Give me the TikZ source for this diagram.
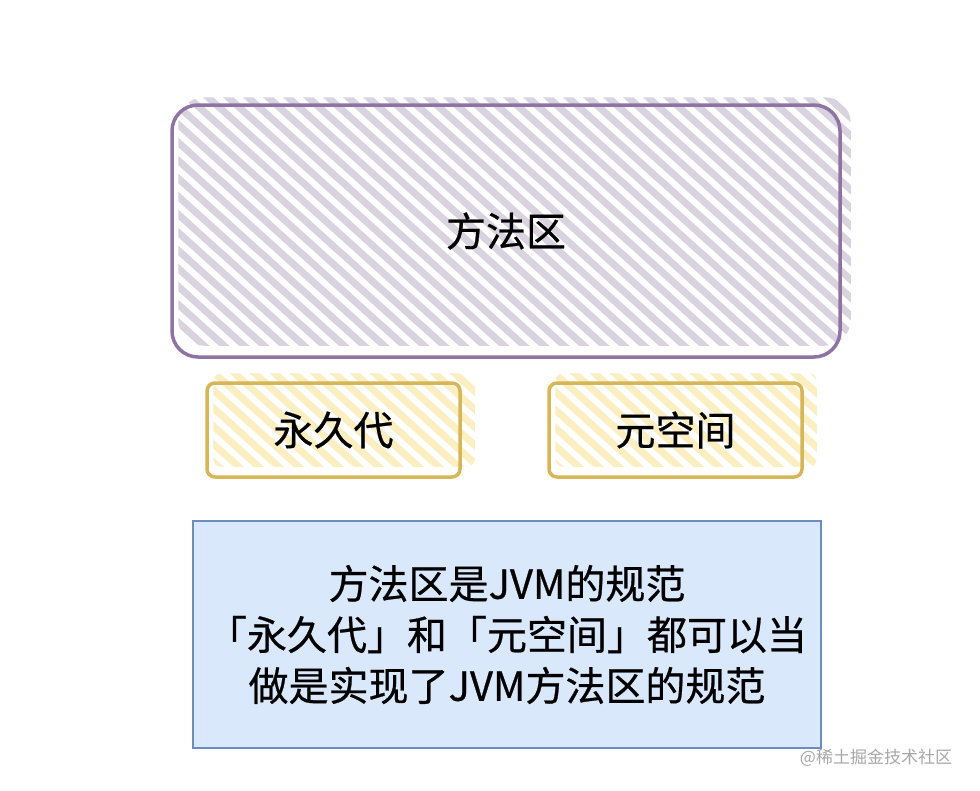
\documentclass[tikz,border=0pt]{standalone}
\usepackage{fontspec}
\newfontfamily\cjk{Noto Sans CJK SC}[FakeBold=0.6]
\newfontfamily\cjkmark{Noto Sans CJK SC}
\usetikzlibrary{backgrounds}
\definecolor{purpleline}{HTML}{8F73A3}
\definecolor{purplehatch}{HTML}{D9D3E0}
\definecolor{yellowline}{HTML}{D6B656}
\definecolor{yellowhatch}{HTML}{FBEEC0}
\definecolor{bluefill}{HTML}{DAE8FC}
\definecolor{blueline}{HTML}{6C8EBF}
\definecolor{marktext}{HTML}{A8A8A8}
\tikzset{
  x=1pt, y=-1pt,
  lbl/.style={font=\cjk\fontsize{40}{51}\selectfont, text=black},
  areabox/.style={lbl, draw=purpleline, line width=3.5pt, rounded corners=26pt, minimum width=668pt, minimum height=252pt, inner sep=0pt},
  implbox/.style={lbl, draw=yellowline, line width=3.5pt, rounded corners=8pt, minimum width=253pt, minimum height=94pt, inner sep=0pt},
  notebox/.style={lbl, draw=blueline, fill=bluefill, line width=1.3pt, minimum width=628pt, minimum height=227pt, align=center, inner sep=0pt},
  hatchline/.style={line width=7pt, line cap=round},
}
% #1 node, #2 colour, #3 radius, #4 shift of south west, #5 shift of north east
\newcommand{\hatchin}[5]{%
  \begin{scope}
    \clip[rounded corners=#3] ([shift={#4}]#1.south west) rectangle ([shift={#5}]#1.north east);
    \foreach \i in {-900,-880,...,1000} {
      \draw[hatchline, #2] (\i,0) -- ++(1000,900);
    }
  \end{scope}
}
\begin{document}
\begin{tikzpicture}
\useasboundingbox (0,0) rectangle (980,790);

\node[areabox] (area) at (506,231) {方法区};
\node[implbox] (perm) at (333.5,430) {永久代};
\node[implbox] (meta) at (675.5,430) {元空间};
\node[notebox] (note) at (507,634.5) {方法区是JVM的规范\\「永久代」和「元空间」都可以当\\做是实现了JVM方法区的规范};
\node[font=\cjkmark\fontsize{17}{20}\selectfont, text=marktext] (mark) at (876,758) {@稀土掘金技术社区};

\begin{pgfonlayer}{background}
  \fill[white] (0,0) rectangle (980,790);
  \hatchin{area}{purplehatch}{26pt}{(8,-13)}{(9,-6)}
  \hatchin{perm}{yellowhatch}{8pt}{(8,-12)}{(13,-8)}
  \hatchin{meta}{yellowhatch}{8pt}{(8,-12)}{(13,-8)}
\end{pgfonlayer}
\end{tikzpicture}
\end{document}
